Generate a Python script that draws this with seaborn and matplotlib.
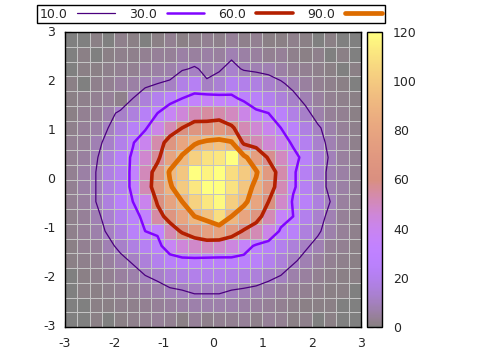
import numpy as np
import matplotlib
matplotlib.use('Agg')
import matplotlib.pyplot as plt
from matplotlib.colors import ListedColormap
from matplotlib.lines import Line2D
import seaborn as sns

# 2D histogram counts, 20 rows (top y=2.85 -> bottom y=-2.85) x 24 columns (x=-2.875 -> 2.875)
row_00 = [0, 0, 1, 0, 2, 1, 0, 1, 3, 1, 2, 3, 2, 4, 2, 3, 1, 1, 2, 1, 0, 1, 0, 0]
row_01 = [0, 1, 0, 1, 2, 2, 3, 4, 4, 6, 5, 6, 5, 8, 6, 5, 3, 4, 2, 1, 2, 0, 1, 0]
row_02 = [0, 1, 1, 2, 3, 3, 5, 6, 7, 9, 11, 8, 9, 13, 9, 8, 8, 6, 4, 3, 2, 1, 0, 1]
row_03 = [1, 0, 2, 3, 5, 6, 8, 10, 11, 18, 22, 11, 14, 21, 19, 17, 13, 11, 8, 5, 3, 2, 1, 0]
row_04 = [1, 2, 3, 4, 2, 10, 15, 20, 25, 30, 34, 37, 35, 33, 27, 24, 20, 15, 12, 8, 5, 3, 2, 1]
row_05 = [1, 3, 4, 7, 12, 16, 23, 30, 38, 45, 52, 55, 53, 50, 42, 32, 30, 25, 18, 12, 7, 4, 3, 1]
row_06 = [2, 4, 6, 10, 16, 23, 28, 42, 52, 60, 66, 64, 68, 62, 52, 46, 40, 30, 25, 17, 11, 7, 4, 2]
row_07 = [3, 4, 8, 12, 19, 29, 40, 53, 66, 80, 88, 94, 96, 92, 56, 52, 46, 40, 27, 21, 13, 8, 5, 2]
row_08 = [3, 5, 9, 15, 23, 32, 47, 56, 78, 92, 103, 110, 112, 120, 95, 75, 58, 50, 36, 24, 15, 9, 5, 3]
row_09 = [3, 6, 10, 17, 22, 33, 51, 67, 92, 98, 120, 116, 122, 108, 100, 92, 70, 53, 32, 22, 14, 8, 6, 3]
row_10 = [3, 6, 10, 16, 22, 33, 52, 68, 88, 100, 112, 120, 124, 110, 98, 86, 68, 52, 32, 22, 14, 8, 6, 3]
row_11 = [3, 5, 10, 16, 24, 30, 40, 62, 78, 90, 104, 112, 118, 102, 94, 80, 60, 48, 28, 24, 16, 10, 5, 3]
row_12 = [2, 4, 8, 13, 20, 26, 33, 54, 66, 80, 90, 96, 108, 90, 80, 66, 52, 36, 30, 20, 13, 8, 4, 2]
row_13 = [2, 4, 7, 11, 16, 24, 30, 32, 52, 62, 70, 76, 78, 70, 58, 52, 42, 28, 24, 16, 11, 7, 4, 2]
row_14 = [1, 3, 4, 8, 12, 17, 22, 26, 38, 45, 48, 50, 48, 44, 36, 28, 24, 20, 15, 11, 8, 4, 3, 1]
row_15 = [1, 2, 3, 5, 8, 11, 15, 20, 24, 26, 26, 25, 25, 26, 26, 24, 20, 15, 11, 8, 5, 3, 2, 1]
row_16 = [0, 1, 2, 3, 5, 7, 10, 12, 15, 17, 19, 19, 19, 18, 17, 15, 12, 10, 7, 5, 3, 2, 1, 1]
row_17 = [0, 1, 1, 2, 3, 4, 6, 7, 9, 10, 11, 11, 11, 10, 9, 8, 7, 5, 4, 3, 2, 1, 1, 0]
row_18 = [0, 0, 1, 1, 2, 2, 3, 4, 5, 6, 7, 7, 7, 7, 6, 5, 4, 3, 2, 1, 1, 1, 0, 0]
row_19 = [0, 0, 1, 0, 1, 2, 3, 4, 3, 1, 4, 2, 3, 3, 4, 2, 4, 3, 1, 2, 0, 1, 0, 0]

contour_levels = [10, 30, 60, 90]
contour_labels = ['10.0', '30.0', '60.0', '90.0']
tick_values = [-3, -2, -1, 0, 1, 2, 3]
cbar_ticks = [0, 20, 40, 60, 80, 100, 120]

counts = np.array([row_00, row_01, row_02, row_03, row_04, row_05, row_06,
                   row_07, row_08, row_09, row_10, row_11, row_12, row_13,
                   row_14, row_15, row_16, row_17, row_18, row_19], dtype=float)
n_rows, n_cols = counts.shape


def gnuplot_palette(x):
    # default gnuplot rgbformulae 7,5,15
    r = np.sqrt(x)
    g = x ** 3
    b = np.clip(np.sin(2 * np.pi * x), 0, 1)
    return np.stack([r, g, b], axis=-1)


xs = np.linspace(0, 1, 256)
cmap = ListedColormap(0.5 + 0.5 * gnuplot_palette(xs))  # 50% transparent over white
line_colors = [gnuplot_palette(np.array(v / 120.0)) for v in contour_levels]
line_widths = [0.9, 1.8, 2.6, 3.4]

sns.set_style('white')
plt.rcParams['font.family'] = ['DejaVu Sans']

fig = plt.figure(figsize=(4.8, 3.6), dpi=100)
ax = fig.add_axes([65 / 480, 33 / 360, 296 / 480, 295 / 360])
cax = fig.add_axes([367 / 480, 33 / 360, 15 / 480, 295 / 360])

sns.heatmap(counts, ax=ax, cbar_ax=cax, cmap=cmap, vmin=0, vmax=120,
            linewidths=0.45, linecolor='#c4c4c4', square=False)

xc = np.arange(n_cols) + 0.5
yc = np.arange(n_rows) + 0.5
ax.contour(xc, yc, counts, levels=contour_levels, colors=line_colors,
           linewidths=line_widths)

# axis ticks mapped from data units to heatmap cells
ax.set_xticks([(v + 3) / 6 * n_cols for v in tick_values])
ax.set_xticklabels([str(v) for v in tick_values], rotation=0)
ax.set_yticks([(3 - v) / 6 * n_rows for v in tick_values])
ax.set_yticklabels([str(v) for v in tick_values], rotation=0)
ax.tick_params(axis='both', labelsize=9, direction='in', length=4, pad=7,
               top=True, right=True, bottom=True, left=True, color='black')
for s in ax.spines.values():
    s.set_visible(True)
    s.set_color('black')
    s.set_linewidth(1)

cbar = ax.collections[0].colorbar
cbar.set_ticks(cbar_ticks)
cbar.ax.tick_params(labelsize=9, direction='in', length=4, left=True, right=True,
                    color='black', pad=8)
cbar.outline.set_visible(True)
cbar.outline.set_edgecolor('black')
cbar.outline.set_linewidth(1)

handles = [Line2D([], [], color=c, lw=w) for c, w in zip(line_colors, line_widths)]
leg = fig.legend(handles, contour_labels, loc='upper left',
                 bbox_to_anchor=(37 / 480, 1 - 5 / 360), ncol=4, markerfirst=False,
                 frameon=True, fancybox=False, edgecolor='black', framealpha=1,
                 borderaxespad=0, fontsize=9, handlelength=3.0, columnspacing=1.1,
                 handletextpad=0.8, borderpad=0.2)
leg.get_frame().set_linewidth(1)

fig.savefig('out.png', dpi=100)
